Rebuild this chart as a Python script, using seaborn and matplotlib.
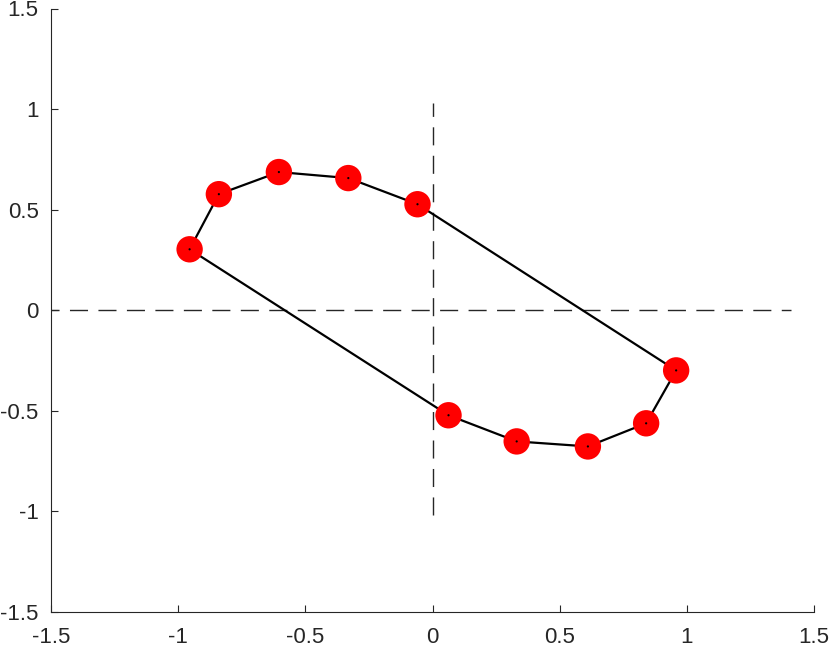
import numpy as np
import pandas as pd
import matplotlib
matplotlib.use("Agg")
import matplotlib.pyplot as plt
import seaborn as sns

# Points in drawing order (closed loop)
x_vals = [-0.955, -0.840, -0.604, -0.331, -0.059, 0.958, 0.840, 0.611, 0.331, 0.063]
y_vals = [0.303, 0.577, 0.687, 0.657, 0.527, -0.299, -0.562, -0.677, -0.652, -0.522]
ticks = [-1.5, -1, -0.5, 0, 0.5, 1, 1.5]
tick_labels = ["-1.5", "-1", "-0.5", "0", "0.5", "1", "1.5"]
hline_x = [-1.54, 1.41]
vline_y = [-1.02, 1.03]

sns.set_theme(style="ticks")
plt.rcParams['font.family'] = ['Liberation Sans', 'DejaVu Sans']

loop = pd.DataFrame({"x": x_vals + [x_vals[0]], "y": y_vals + [y_vals[0]],
                     "order": range(len(x_vals) + 1)})
pts = pd.DataFrame({"x": x_vals, "y": y_vals})

fig = plt.figure(figsize=(8.3, 6.48), dpi=100)
ax = fig.add_axes([51/830, 36/648, (814-51)/830, (612-8.5)/648])

ax.plot(hline_x, [0, 0], color="#262626", lw=1.0, dashes=(13, 7.5), zorder=1)
ax.plot([0, 0], vline_y, color="#262626", lw=1.0, dashes=(13, 7.5), zorder=1)

sns.lineplot(data=loop, x="x", y="y", sort=False, estimator=None, color="black",
             lw=1.6, ax=ax, zorder=2)
sns.scatterplot(data=pts, x="x", y="y", color="red", s=19**2, edgecolor="none",
                ax=ax, zorder=3)
sns.scatterplot(data=pts, x="x", y="y", color="black", s=2.5, edgecolor="none",
                ax=ax, zorder=4)

ax.set_xlim(-1.5, 1.5)
ax.set_ylim(-1.5, 1.5)
ax.set_xticks(ticks)
ax.set_xticklabels(tick_labels)
ax.set_yticks(ticks)
ax.set_yticklabels(tick_labels)
ax.set_xlabel("")
ax.set_ylabel("")
sns.despine(ax=ax)
for s in ["left", "bottom"]:
    ax.spines[s].set_color("#262626")
    ax.spines[s].set_linewidth(0.8)
ax.tick_params(direction="in", length=5, width=0.8, colors="#262626",
               labelsize=16, labelcolor="#262626")
ax.tick_params(axis="x", pad=11)
ax.tick_params(axis="y", pad=9)

fig.savefig("out.png", dpi=100)
